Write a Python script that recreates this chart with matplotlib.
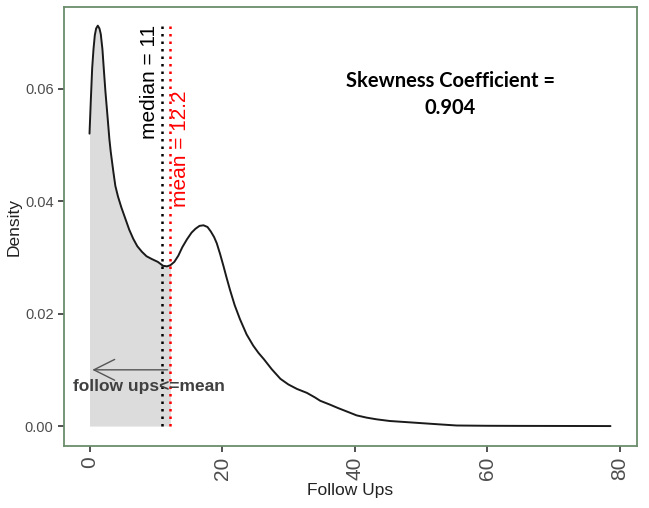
import matplotlib
matplotlib.use("Agg")
import matplotlib.pyplot as plt
import numpy as np

plt.rcParams["font.family"] = ["Liberation Sans", "DejaVu Sans"]

# Density curve
follow_ups = [0, 0.2, 0.4, 0.6, 0.8, 1.0, 1.25, 1.5, 1.7, 1.95, 2.15, 2.4, 2.7, 3.0,
              3.2, 3.6, 3.9, 4.3, 4.8, 5.4, 6.0, 6.6, 7.2, 7.9, 8.6, 9.4, 10.3, 11.1,
              11.7, 12.2, 12.8, 13.4, 14.0, 14.7, 15.4, 16.0, 16.6, 17.2, 17.8, 18.3,
              18.8, 19.2, 19.7, 20.2, 20.7, 21.2, 21.9, 22.7, 23.7, 24.7, 25.5, 26.3,
              27.5, 28.8, 30.0, 31.3, 32.8, 34.0, 34.8, 36.3, 37.5, 38.8, 40.3, 41.8,
              43.3, 45.3, 47.8, 50.3, 52.8, 55.4, 60, 65, 70, 78.6]
density = [0.0520, 0.0580, 0.0636, 0.0670, 0.0695, 0.0707, 0.0712, 0.0707, 0.0697,
           0.0670, 0.0636, 0.0595, 0.0553, 0.0510, 0.0488, 0.0452, 0.0427, 0.0408,
           0.0389, 0.0369, 0.0349, 0.0333, 0.0320, 0.0310, 0.0302, 0.0297, 0.0292,
           0.0285, 0.0284, 0.0286, 0.0292, 0.0303, 0.0318, 0.0332, 0.0344, 0.0351,
           0.0356, 0.0357, 0.0354, 0.0346, 0.0336, 0.0325, 0.0306, 0.0285, 0.0263,
           0.0242, 0.0215, 0.0190, 0.0163, 0.0143, 0.0130, 0.0119, 0.0101, 0.0084,
           0.0074, 0.0066, 0.0059, 0.0051, 0.0045, 0.0038, 0.0032, 0.0026, 0.0019,
           0.0015, 0.0012, 0.0009, 0.0007, 0.0005, 0.0003, 0.0001, 0.00005, 0.00003,
           0.00002, 0.0]

median_val = 11
mean_val = 12.2
skewness = 0.904
x_ticks = [0, 20, 40, 60, 80]
y_ticks = [0.00, 0.02, 0.04, 0.06]

fig = plt.figure(figsize=(6.49, 5.08), dpi=100)
ax = fig.add_axes([0.0986, 0.122, 0.8829, 0.864])

xs = np.array(follow_ups)
ys = np.array(density)
mask = xs <= mean_val
ax.fill_between(xs[mask], 0, ys[mask], color="#dcdcdc", linewidth=0, zorder=1)
ax.plot(xs, ys, color="#1a1a1a", linewidth=1.4, zorder=3,
        solid_joinstyle="round", solid_capstyle="round")

top = max(density)
ax.vlines(median_val, 0, top, colors="black", linestyles=(0, (1, 2)), linewidth=1.8, zorder=4)
ax.vlines(mean_val, 0, top, colors="red", linestyles=(0, (1, 2)), linewidth=1.8, zorder=4)

ax.text(9.1, 0.0713, f"median = {median_val}", rotation=90, ha="center", va="top",
        fontsize=15, color="black", zorder=5)
ax.text(13.8, 0.0597, f"mean = {mean_val}", rotation=90, ha="center", va="top",
        fontsize=15, color="red", zorder=5)

ax.annotate("", xy=(0, 0.0100), xytext=(mean_val, 0.0100),
            arrowprops=dict(arrowstyle="->,head_length=1.5,head_width=0.75",
                            color="#555555", lw=1.0), zorder=5)
ax.text(9.0, 0.0071, "follow ups<=mean", ha="center", va="center", fontsize=12.5,
        fontweight="bold", color="#404040", zorder=6)

ax.text(54.4, 0.0613, "Skewness Coefficient =", ha="center", va="center",
        fontsize=14.5, fontweight="bold", family="Lato", color="black")
ax.text(54.4, 0.0566, f"{skewness}", ha="center", va="center",
        fontsize=14.5, fontweight="bold", family="Lato", color="black")

ax.set_xlim(-3.85, 82.6)
ax.set_ylim(-0.00355, 0.0745)
ax.set_xticks(x_ticks)
ax.set_xticklabels([str(t) for t in x_ticks], rotation=90, fontsize=15, color="#4d4d4d")
ax.set_yticks(y_ticks)
ax.set_yticklabels([f"{t:.2f}" for t in y_ticks], fontsize=10.5, color="#4d4d4d")
ax.tick_params(axis="both", direction="out", length=4, width=1.2, color="#333333")
ax.set_xlabel("Follow Ups", fontsize=12.5, color="#222222", labelpad=2)
ax.set_ylabel("Density", fontsize=12.5, color="#222222", labelpad=2)
for s in ax.spines.values():
    s.set_color("#6b8e6b")
    s.set_linewidth(1.3)

fig.savefig("out.png", dpi=100)
